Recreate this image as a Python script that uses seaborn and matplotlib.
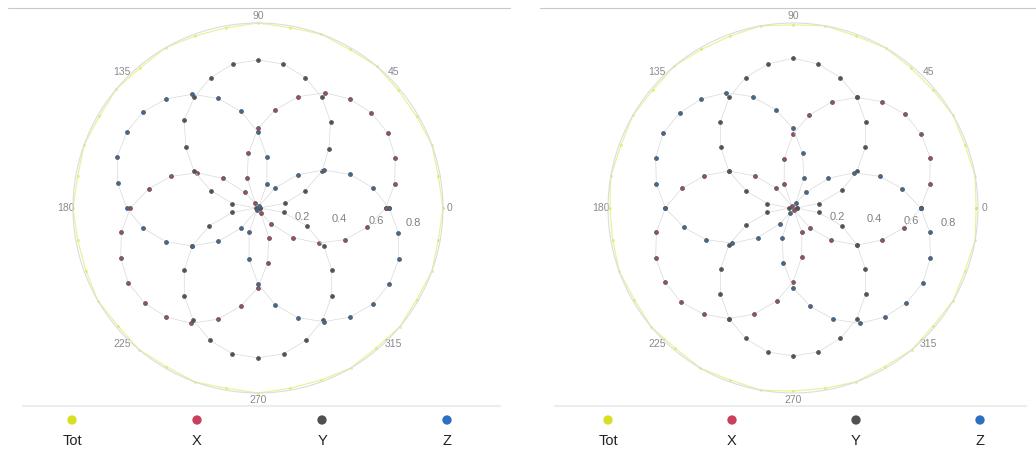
import numpy as np
import pandas as pd
import matplotlib
matplotlib.use("Agg")
import matplotlib.pyplot as plt
import matplotlib.transforms as mtransforms
from matplotlib.lines import Line2D
import seaborn as sns

sns.set_theme(style="white")
plt.rcParams["font.family"] = ["Liberation Sans", "DejaVu Sans"]

# measurement angles (deg), one point every 10 degrees
angles_deg = list(range(0, 360, 10))

series_names = ["Tot", "X", "Y", "Z"]
series_colors = ["#d6df22", "#c8405e", "#505050", "#2e6fc4"]

angle_ticks = [0, 45, 90, 135, 180, 225, 270, 315]
radial_ticks = [0.2, 0.4, 0.6, 0.8]

# left panel
left_tot = [1.00, 0.99, 1.00, 0.99, 0.99, 1.00, 0.99, 1.00, 0.99, 1.00, 0.99, 0.99,
            1.00, 0.99, 1.00, 0.99, 1.00, 0.99, 1.00, 0.99, 0.99, 1.00, 0.99, 1.00,
            0.99, 1.00, 0.99, 1.00, 0.99, 0.99, 1.00, 0.99, 1.00, 0.99, 1.00, 0.99]
left_x = [0.69, 0.75, 0.79, 0.81, 0.80, 0.77, 0.72, 0.64, 0.54, 0.43, 0.30, 0.17,
          0.03, 0.11, 0.25, 0.38, 0.50, 0.60, 0.69, 0.75, 0.79, 0.81, 0.80, 0.77,
          0.72, 0.64, 0.54, 0.43, 0.30, 0.17, 0.03, 0.11, 0.25, 0.38, 0.50, 0.60]
left_y = [0.01, 0.15, 0.27, 0.40, 0.50, 0.61, 0.69, 0.75, 0.79, 0.80, 0.79, 0.75,
          0.69, 0.62, 0.51, 0.40, 0.27, 0.14, 0.01, 0.14, 0.28, 0.41, 0.52, 0.62,
          0.70, 0.76, 0.80, 0.81, 0.80, 0.76, 0.70, 0.62, 0.52, 0.41, 0.28, 0.14]
left_z = [0.71, 0.63, 0.53, 0.41, 0.28, 0.14, 0.01, 0.14, 0.28, 0.41, 0.53, 0.63,
          0.71, 0.77, 0.81, 0.82, 0.81, 0.77, 0.71, 0.63, 0.53, 0.41, 0.28, 0.14,
          0.01, 0.14, 0.28, 0.41, 0.53, 0.63, 0.71, 0.77, 0.81, 0.82, 0.81, 0.77]

# right panel
right_tot = [0.99, 1.00, 0.99, 1.00, 0.99, 0.99, 1.00, 0.99, 1.00, 0.99, 1.00, 0.99,
             0.99, 1.00, 0.99, 1.00, 0.99, 1.00, 0.99, 0.99, 1.00, 0.99, 1.00, 0.99,
             1.00, 0.99, 1.00, 0.99, 0.99, 1.00, 0.99, 1.00, 0.99, 1.00, 0.99, 1.00]
right_x = [0.69, 0.75, 0.79, 0.80, 0.79, 0.75, 0.69, 0.61, 0.51, 0.40, 0.27, 0.14,
           0.01, 0.14, 0.27, 0.40, 0.51, 0.61, 0.69, 0.75, 0.79, 0.80, 0.79, 0.75,
           0.69, 0.61, 0.51, 0.40, 0.27, 0.14, 0.01, 0.14, 0.27, 0.40, 0.51, 0.61]
right_y = [0.02, 0.14, 0.28, 0.40, 0.51, 0.61, 0.69, 0.75, 0.79, 0.81, 0.79, 0.75,
           0.69, 0.61, 0.51, 0.40, 0.27, 0.14, 0.02, 0.14, 0.27, 0.40, 0.51, 0.61,
           0.69, 0.75, 0.79, 0.80, 0.79, 0.75, 0.69, 0.61, 0.51, 0.40, 0.28, 0.14]
right_z = [0.69, 0.60, 0.50, 0.38, 0.25, 0.11, 0.03, 0.17, 0.30, 0.43, 0.54, 0.64,
           0.72, 0.77, 0.80, 0.81, 0.79, 0.75, 0.69, 0.60, 0.50, 0.38, 0.25, 0.11,
           0.03, 0.17, 0.30, 0.43, 0.54, 0.64, 0.72, 0.77, 0.80, 0.81, 0.79, 0.75]

W, H = 1036, 453
R = 185
fig = plt.figure(figsize=(W / 100, H / 100), dpi=100)


def draw_panel(rect, tot, x, y, z):
    ax = fig.add_axes(rect, projection="polar")
    for name, color, r in zip(series_names, series_colors, [tot, x, y, z]):
        df = pd.DataFrame({
            "theta": np.deg2rad(angles_deg + [360]),
            "r": r + r[:1],
        })
        if name == "Tot":
            sns.lineplot(data=df, x="theta", y="r", ax=ax, sort=False, estimator=None,
                         color=color, lw=0.9, alpha=0.45, marker="o", markersize=2.2,
                         markeredgewidth=0, legend=False, clip_on=False)
        else:
            sns.lineplot(data=df, x="theta", y="r", ax=ax, sort=False, estimator=None,
                         color="#d9d9d9", lw=0.5, marker="o", markersize=2.6,
                         markerfacecolor=color, markeredgecolor="#5a5a5a",
                         markeredgewidth=0.8, legend=False)
    ax.set_ylim(0, 1.0)
    ax.set_xticks(np.deg2rad(angle_ticks))
    ax.set_xticklabels([str(a) for a in angle_ticks], fontsize=7.5, color="#8a8a8a")
    ax.set_yticks(radial_ticks)
    ax.set_yticklabels([f"{t:.1f}" for t in radial_ticks], fontsize=8, color="#808080")
    ax.set_rlabel_position(-3)
    offset = mtransforms.ScaledTranslation(0, -0.12, fig.dpi_scale_trans)
    for lbl in ax.get_yticklabels():
        lbl.set_transform(lbl.get_transform() + offset)
    ax.tick_params(axis="x", pad=-8)
    ax.grid(False)
    ax.spines["polar"].set_color("#dcdcdc")
    ax.spines["polar"].set_linewidth(0.8)
    ax.set_xlabel("")
    ax.set_ylabel("")
    return ax


def draw_legend(rect):
    lax = fig.add_axes(rect)
    sns.scatterplot(x=series_names, y=[0] * len(series_names), hue=series_names,
                    palette=series_colors, s=45, linewidth=0, legend=False, ax=lax)
    lax.set_xlim(-0.5, len(series_names) - 0.5)
    lax.set_ylim(-1, 1)
    lax.set_yticks([])
    lax.tick_params(axis="x", length=0, pad=3, labelsize=10.5, labelcolor="#222222")
    for s in lax.spines.values():
        s.set_visible(False)
    lax.patch.set_alpha(0)
    lax.set_xlabel("")
    lax.set_ylabel("")


draw_panel([(258 - R) / W, (H - 208 - R) / H, 2 * R / W, 2 * R / H],
           left_tot, left_x, left_y, left_z)
draw_panel([(793 - R) / W, (H - 208 - R) / H, 2 * R / W, 2 * R / H],
           right_tot, right_x, right_y, right_z)

draw_legend([9.5 / W, 23 / H, 500 / W, 20 / H])
draw_legend([546 / W, 23 / H, 496 / W, 20 / H])

# panel frame lines
for x0, x1 in ((8, 510), (540, 1036)):
    fig.add_artist(Line2D([x0 / W, x1 / W], [445 / H, 445 / H], color="#c8c8c8", lw=0.8))
    fig.add_artist(Line2D([(x0 + 15) / W, (x1 - 10) / W], [47 / H, 47 / H],
                          color="#ececec", lw=1.5))

fig.savefig("out.png", dpi=100)
